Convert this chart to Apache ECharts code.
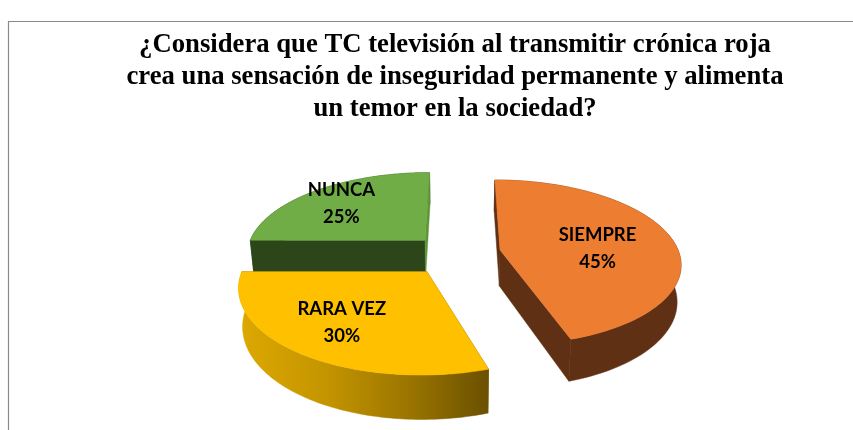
<!DOCTYPE html>
<html><head><meta charset="utf-8">
<style>html,body{margin:0;padding:0;background:#fff}#c{width:853px;height:430px}</style>
<script src="https://cdn.jsdelivr.net/npm/echarts@6/dist/echarts.min.js"></script>
</head><body><div id="c"></div>
<script>
const titleText = "¿Considera que TC televisión al transmitir crónica roja\ncrea una sensación de inseguridad permanente y alimenta\nun temor en la sociedad?";
const categories = ["SIEMPRE", "RARA VEZ", "NUNCA"];
const values = [45, 30, 25];
const topColors = ["#ED7D31", "#FFC000", "#70AD47"];
const sideColors = ["#5F3013", null, "#2D4619"];
const startFaceColors = ["#5F3013", "#7a5c00", "#2D4619"];
const endFaceColors = ["#5F3013", "#7a5c00", "#5F9339"];
// appearance of the tilted, exploded pie
const explode = [[0.225, 0], [-0.178, 0.26], [-0.2, -0.123]];
const labelOffset = [[0.55, -0.02], [-0.407, 0.535], [-0.53, -0.51]];
const drawOrder = [2, 0, 1];
const view = {cx: 460, cy: 250, rx: 178, ry: 80.5, p: 0.15, depth: 36, shrink: 0.982};

const total = values.reduce((a, b) => a + b, 0);
const starts = [];
values.reduce((acc, v, i) => { starts[i] = acc; return acc + v; }, 0);

function proj(X, Y, down) {
  const s = 1 / (1 - view.p * Y);
  return [view.cx + view.rx * X * s * (down ? view.shrink : 1), view.cy + view.ry * Y * s + (down ? view.depth * s : 0)];
}
function rim(i, t) {
  const a = t / total * 2 * Math.PI;
  return [explode[i][0] + Math.sin(a), explode[i][1] - Math.cos(a)];
}
function poly(points, fill, z) {
  return {type: 'polygon', z2: z, shape: {points}, style: {fill, stroke: fill, lineWidth: 0.5}};
}
const yellowGrad = new echarts.graphic.LinearGradient(0, 0, 1, 0, [
  {offset: 0, color: '#DDA800'}, {offset: 0.35, color: '#C49500'},
  {offset: 0.7, color: '#987300'}, {offset: 1, color: '#6A5000'}]);

function renderItem(params, api) {
  const i = drawOrder[params.dataIndex];
  const v = values[i], t0 = starts[i], t1 = t0 + v;
  const arcTop = [], arcDown = [];
  const n = 90;
  for (let k = 0; k <= n; k++) {
    const q = rim(i, t0 + (t1 - t0) * k / n);
    arcTop.push(proj(q[0], q[1], false));
    arcDown.push(proj(q[0], q[1], true));
  }
  const ax = explode[i];
  const apexT = proj(ax[0], ax[1], false), apexD = proj(ax[0], ax[1], true);
  const side = sideColors[i] || yellowGrad;
  const kids = [];
  kids.push(poly([apexT, arcTop[0], arcDown[0], apexD], startFaceColors[i], 1));
  kids.push(poly(arcTop.concat(arcDown.slice().reverse()), side, 2));
  kids.push(poly([apexT, arcTop[n], arcDown[n], apexD], endFaceColors[i], 3));
  kids.push(poly([apexT].concat(arcTop), topColors[i], 4));
  const lp = proj(ax[0] + labelOffset[i][0], ax[1] + labelOffset[i][1], false);
  kids.push({type: 'text', z2: 5, style: {
    x: lp[0], y: lp[1], text: categories[i] + "\n" + Math.round(v / total * 100) + "%",
    align: 'center', verticalAlign: 'middle', textAlign: 'center', textVerticalAlign: 'middle',
    font: 'bold 18.5px Lato', lineHeight: 26.5, fill: '#000'}});
  return {type: 'group', children: kids};
}

const chart = echarts.init(document.getElementById('c'), null, {renderer: 'canvas'});
chart.setOption({
  animation: false,
  backgroundColor: '#fff',
  title: {
    text: titleText, left: 450, top: 24.5, textAlign: 'center',
    textStyle: {fontFamily: 'Liberation Serif', fontWeight: 'bold', fontSize: 26.7, lineHeight: 32, color: '#000'}
  },
  graphic: [{type: 'polyline', shape: {points: [[8.5, 430], [8.5, 21.5], [853, 21.5]]},
    style: {stroke: '#8a8a8a', lineWidth: 1.2, fill: null}, silent: true}],
  series: [{type: 'custom', coordinateSystem: 'none', renderItem, data: drawOrder.map(i => values[i]), silent: true}]
});
</script></body></html>
